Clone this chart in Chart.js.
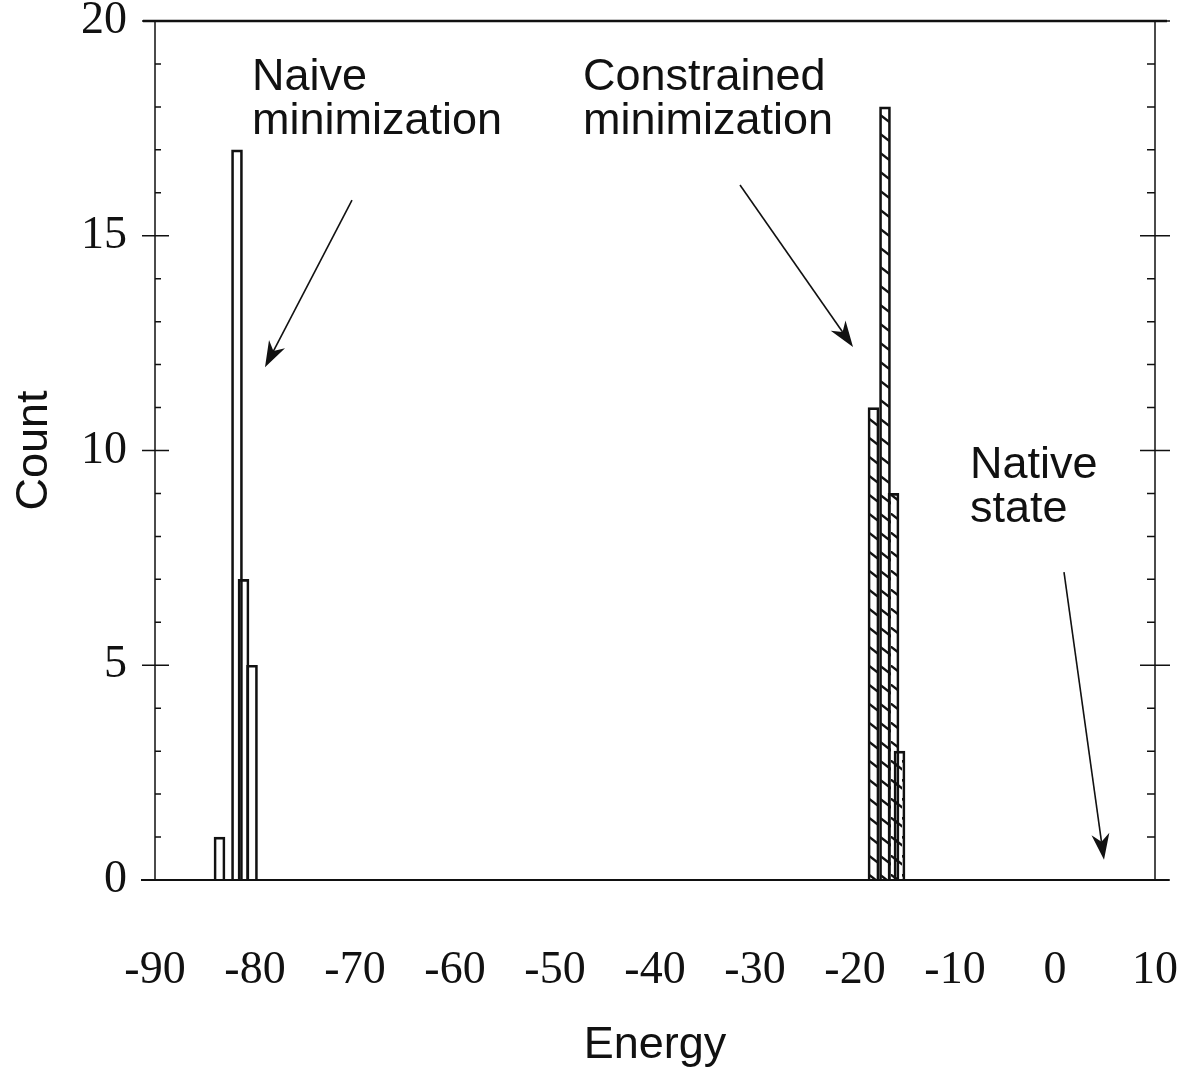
<!DOCTYPE html>
<html>
<head>
<meta charset="utf-8">
<script src="https://cdn.jsdelivr.net/npm/chart.js@4.4.0/dist/chart.umd.min.js"></script>
<style>
  html, body { margin: 0; padding: 0; background: #fff; }
  canvas { display: block; }
</style>
</head>
<body>
<canvas id="grafico-energia" width="1183" height="1091"></canvas>
<script>
// Energy histogram: naive vs constrained minimization
// values (bin centre, count)
const naiveEnergy = [-83.55, -81.8, -81.15, -80.3];
const naiveCount = [1, 17, 7, 5];
const constrEnergy = [-18.15, -17.0, -16.15, -15.55];
const constrCount = [11, 18, 9, 3];
const xTickValues = [-90, -80, -70, -60, -50, -40, -30, -20, -10, 0, 10];
const yTickValues = [0, 5, 10, 15, 20];

// annotations, in data units (energy, count)
const notes = [
  { lines: ['Naive', 'minimization'], x: -80.3, y: 18.39 },
  { lines: ['Constrained', 'minimization'], x: -47.2, y: 18.39 },
  { lines: ['Native', 'state'], x: -8.5, y: 9.36 }
];
const arrows = [
  { from: [-70.3, 15.83], to: [-79.0, 11.94] },
  { from: [-31.5, 16.18], to: [-20.2, 12.41] },
  { from: [0.9, 7.17], to: [4.9, 0.47] }
];

const ink = '#111';
const sans = '"Liberation Sans", Arial, sans-serif';
const serif = '"Liberation Serif", "Times New Roman", serif';

// diagonal hatch for the constrained bars
function hatch() {
  const c = document.createElement('canvas');
  c.width = 11; c.height = 19;
  const g = c.getContext('2d');
  g.strokeStyle = ink;
  g.lineWidth = 2.4;
  g.beginPath();
  g.moveTo(-1, 0); g.lineTo(12, 10);
  g.stroke();
  return g.createPattern(c, 'repeat');
}

// frame, ticks, arrows and labels
const decoracao = {
  id: 'decoracao',
  afterDraw(chart) {
    const { ctx, chartArea: a, scales } = chart;
    const xs = scales.x, ys = scales.y;
    ctx.save();
    ctx.strokeStyle = ink;
    ctx.lineCap = 'butt';

    // box
    ctx.lineWidth = 2.5;
    ctx.beginPath();
    ctx.moveTo(a.left - 12, a.top); ctx.lineTo(a.right + 12, a.top);
    ctx.stroke();
    ctx.lineWidth = 2;
    ctx.beginPath();
    ctx.moveTo(a.left - 14, a.bottom); ctx.lineTo(a.right + 14, a.bottom);
    ctx.stroke();
    ctx.lineWidth = 1.5;
    ctx.beginPath();
    ctx.moveTo(a.left, a.top); ctx.lineTo(a.left, a.bottom);
    ctx.moveTo(a.right, a.top); ctx.lineTo(a.right, a.bottom);
    ctx.stroke();

    // y ticks on both sides
    ctx.lineWidth = 1.5;
    ctx.beginPath();
    for (let v = 0; v <= 20; v++) {
      const py = ys.getPixelForValue(v);
      if (v % 5 === 0) {
        const inner = (v === 0 || v === 20) ? 0 : 14;
        ctx.moveTo(a.left - 13, py); ctx.lineTo(a.left + inner, py);
        ctx.moveTo(a.right - 15, py); ctx.lineTo(a.right + 15, py);
      } else {
        ctx.moveTo(a.left, py); ctx.lineTo(a.left + 6, py);
        ctx.moveTo(a.right - 8, py); ctx.lineTo(a.right, py);
      }
    }
    ctx.stroke();

    // arrows
    ctx.fillStyle = ink;
    arrows.forEach(ar => {
      const x1 = xs.getPixelForValue(ar.from[0]), y1 = ys.getPixelForValue(ar.from[1]);
      const x2 = xs.getPixelForValue(ar.to[0]), y2 = ys.getPixelForValue(ar.to[1]);
      const ang = Math.atan2(y2 - y1, x2 - x1);
      const len = 26, w = 9;
      ctx.lineWidth = 1.6;
      ctx.beginPath();
      ctx.moveTo(x1, y1);
      ctx.lineTo(x2 - Math.cos(ang) * len * 0.7, y2 - Math.sin(ang) * len * 0.7);
      ctx.stroke();
      ctx.beginPath();
      ctx.moveTo(x2, y2);
      ctx.lineTo(x2 - Math.cos(ang) * len - Math.sin(ang) * w, y2 - Math.sin(ang) * len + Math.cos(ang) * w);
      ctx.lineTo(x2 - Math.cos(ang) * len * 0.7, y2 - Math.sin(ang) * len * 0.7);
      ctx.lineTo(x2 - Math.cos(ang) * len + Math.sin(ang) * w, y2 - Math.sin(ang) * len - Math.cos(ang) * w);
      ctx.closePath();
      ctx.fill();
    });

    // text labels
    ctx.font = '45px ' + sans;
    ctx.textAlign = 'left';
    ctx.textBaseline = 'alphabetic';
    notes.forEach(n => {
      const px = xs.getPixelForValue(n.x), py = ys.getPixelForValue(n.y);
      n.lines.forEach((t, i) => ctx.fillText(t, px, py + i * 44));
    });
    ctx.restore();
  }
};

const ctx = document.getElementById('grafico-energia').getContext('2d');
new Chart(ctx, {
  type: 'bar',
  data: {
    datasets: [
      {
        label: 'Naive minimization',
        data: naiveEnergy.map((e, i) => ({ x: e, y: naiveCount[i] })),
        backgroundColor: 'rgba(0,0,0,0)',
        borderColor: ink,
        borderWidth: 2,
        borderSkipped: 'bottom',
        barThickness: 11,
        grouped: false
      },
      {
        label: 'Constrained minimization',
        data: constrEnergy.map((e, i) => ({ x: e, y: constrCount[i] })),
        backgroundColor: hatch(),
        borderColor: ink,
        borderWidth: 2,
        borderSkipped: 'bottom',
        barThickness: 11,
        grouped: false
      }
    ]
  },
  options: {
    responsive: false,
    animation: false,
    layout: { padding: { top: 21, right: 28, left: 0, bottom: 0 } },
    plugins: { legend: { display: false }, tooltip: { enabled: false } },
    scales: {
      x: {
        type: 'linear',
        offset: false,
        min: -90, max: 10,
        afterBuildTicks: s => { s.ticks = xTickValues.map(v => ({ value: v })); },
        afterFit: s => { s.height = 211; s.paddingLeft = 0; s.paddingRight = 0; },
        grid: { display: false, drawTicks: false },
        border: { display: false },
        ticks: { color: ink, font: { family: serif, size: 46 }, padding: 63, maxRotation: 0, autoSkip: false },
        title: { display: true, text: 'Energy', color: ink, font: { family: sans, size: 45 }, padding: { top: 0, bottom: 18 } }
      },
      y: {
        min: 0, max: 20,
        afterBuildTicks: s => { s.ticks = yTickValues.map(v => ({ value: v })); },
        afterFit: s => { s.width = 155; s.paddingTop = 0; s.paddingBottom = 0; },
        grid: { display: false, drawTicks: false },
        border: { display: false },
        ticks: { color: ink, font: { family: serif, size: 46 }, padding: 28 },
        title: { display: true, text: 'Count', color: ink, font: { family: sans, size: 45 }, padding: { top: 8, bottom: 0 } }
      }
    }
  },
  plugins: [decoracao]
});
</script>
</body>
</html>
